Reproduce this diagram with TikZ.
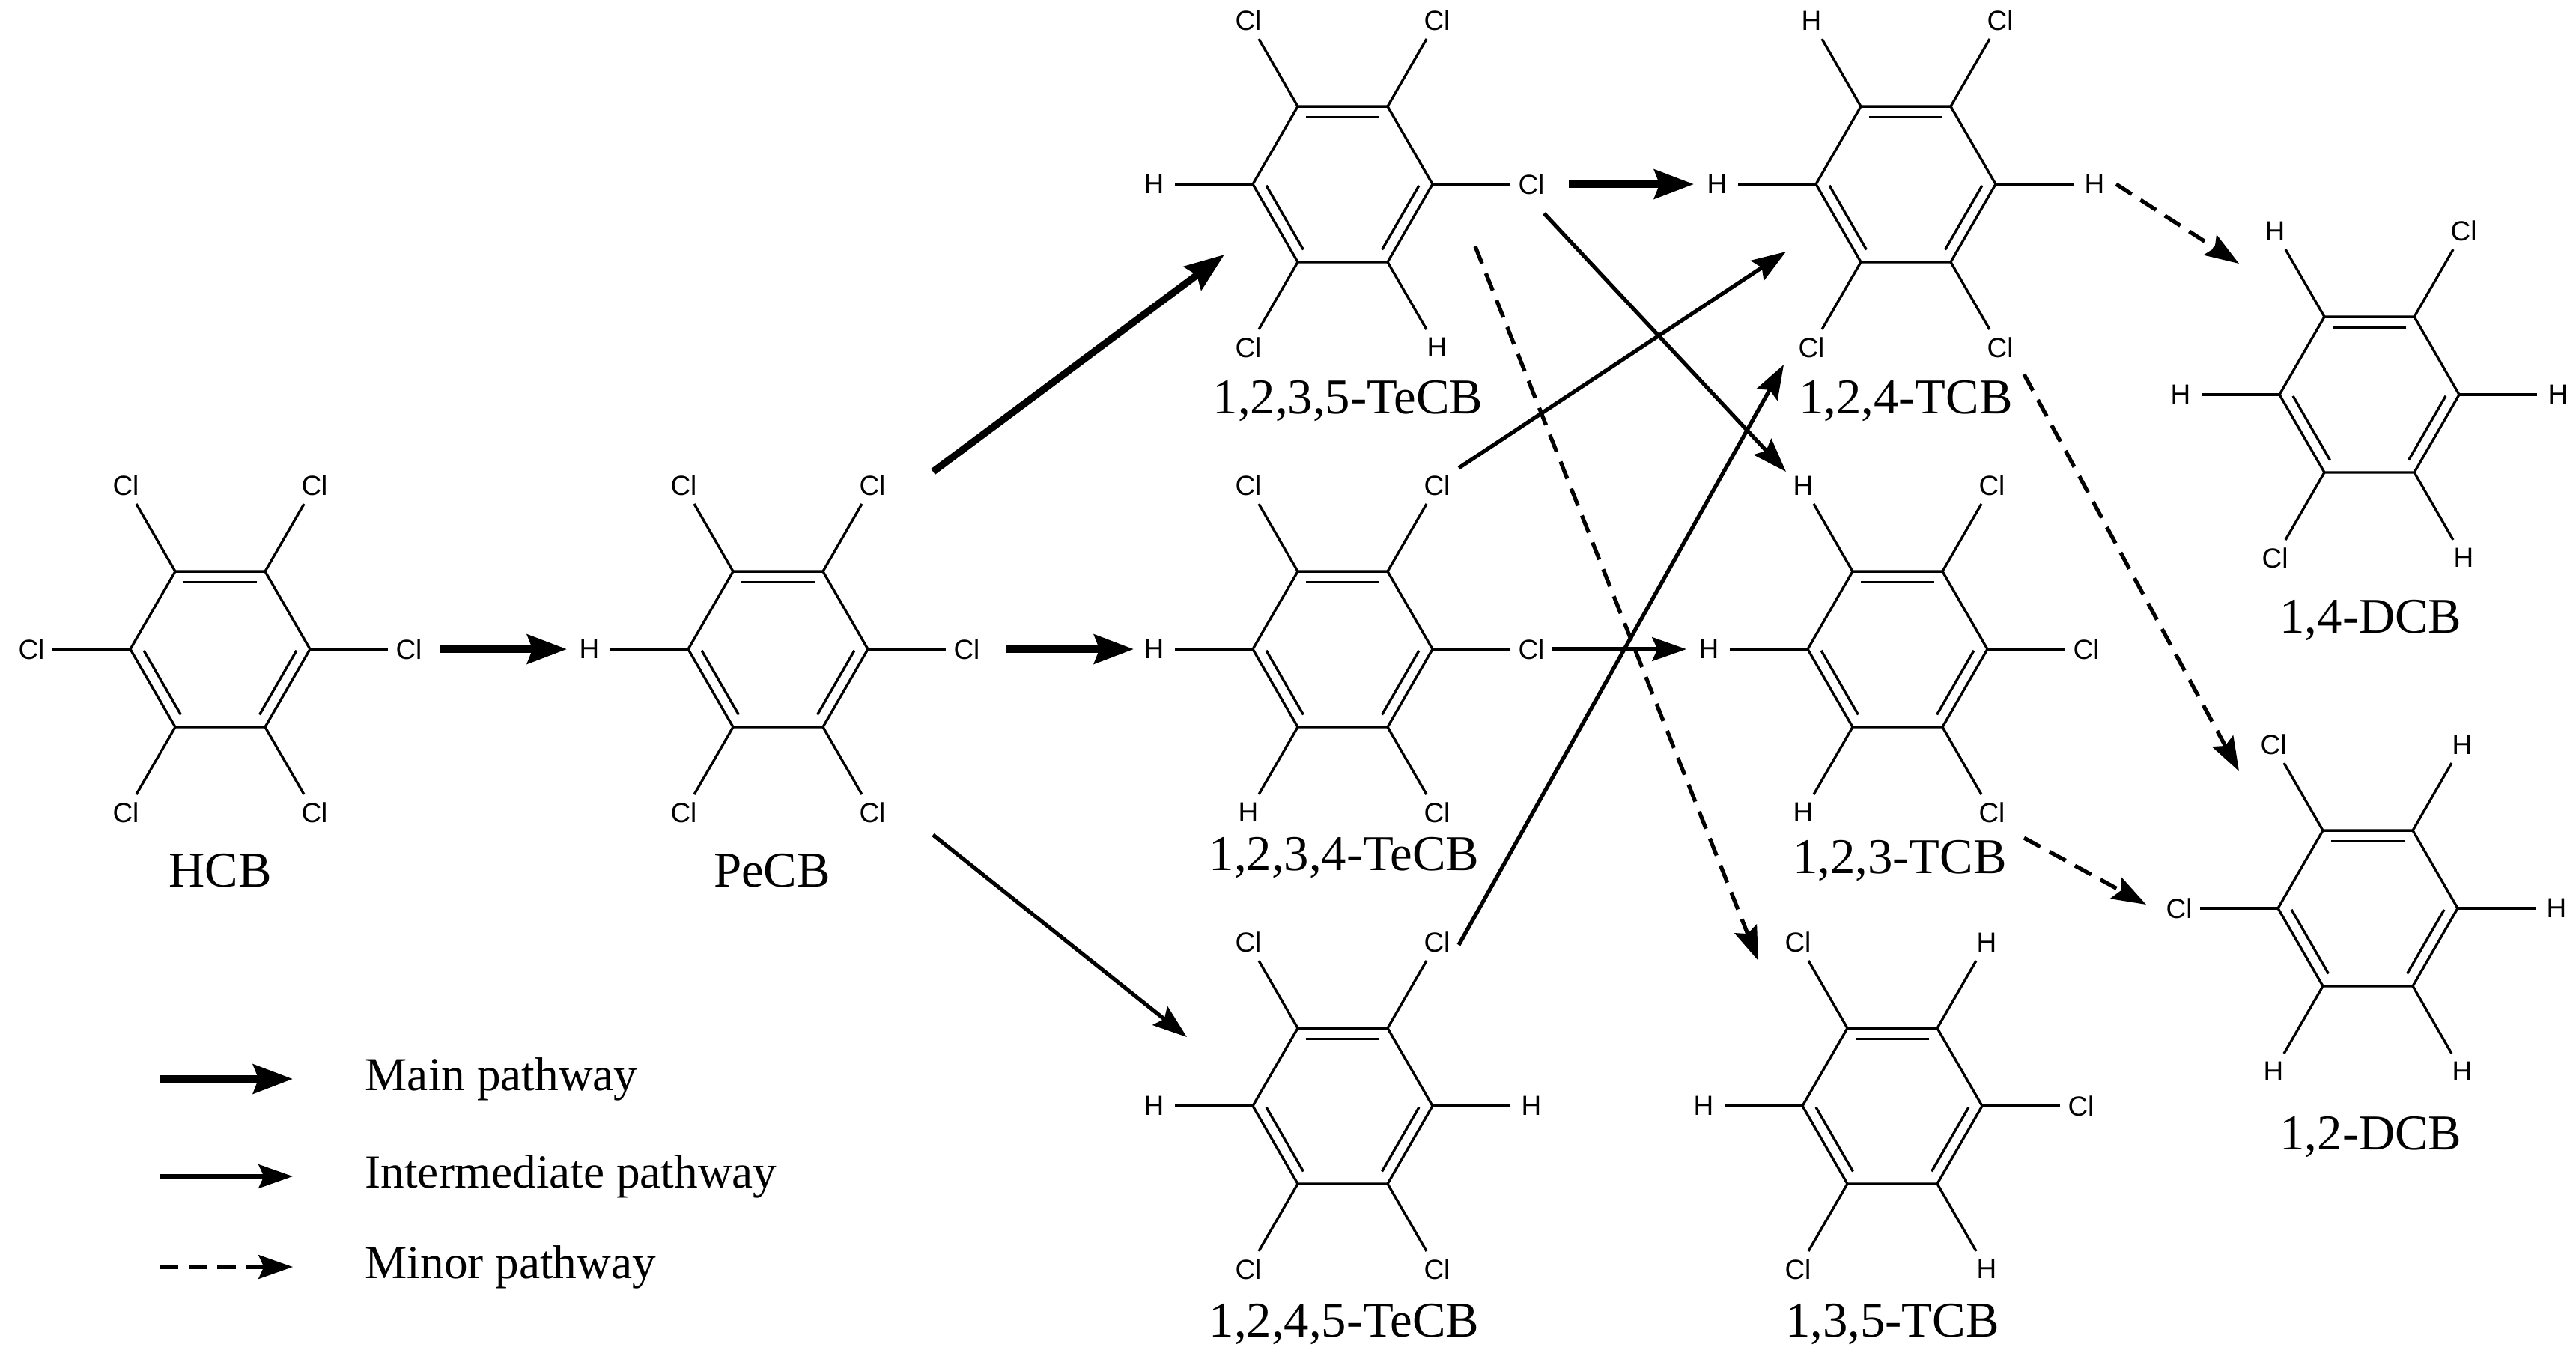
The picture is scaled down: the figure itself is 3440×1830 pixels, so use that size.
\documentclass[tikz,border=0pt]{standalone}
\usepackage{fontspec}
\setmainfont{Liberation Serif}
\newfontfamily\atomfont{Liberation Sans}
\usetikzlibrary{arrows.meta}
\tikzset{
  bond/.style={line width=0.95pt, line join=miter},
  atom/.style={font=\atomfont\fontsize{10.5}{12}\selectfont, inner sep=0pt},
  cname/.style={font=\fontsize{19}{22}\selectfont, inner sep=0pt},
  legtxt/.style={font=\fontsize{18}{21}\selectfont, inner sep=0pt, anchor=west},
  mainp/.style={line width=2.7pt, -{Stealth[length=15pt,width=11pt,inset=2pt]}},
  interp/.style={line width=1.5pt, -{Stealth[length=13pt,width=9pt,inset=2pt]}},
  minorp/.style={line width=1.5pt, dash pattern=on 7pt off 4pt, -{Stealth[length=13pt,width=9pt,inset=2pt]}},
}
% #1 name, #2 x, #3 y, #4..#9 labels at 0,60,120,180,240,300 degrees
\newcommand\benzring[9]{%
\begin{scope}[shift={(#2,#3)}, yscale=-1]
  \draw[bond] (0:120)--(60:120)--(120:120)--(180:120)--(240:120)--(300:120)--cycle;
  \foreach \m in {90,210,330}{\draw[bond] (\m-29:102)--(\m+29:102);}
  \foreach \a/\t [count=\i] in {0/#4,60/#5,120/#6,180/#7,240/#8,300/#9}{
    \draw[bond] (\a:120)--(\a:224);
    \node[atom] (#1-\i) at (\a:252) {\t};
  }
\end{scope}}
\begin{document}
\begin{tikzpicture}[x=0.1mm,y=-0.1mm]
\useasboundingbox (0,0) rectangle (3440,1830);
\benzring{hcb}{294}{867}{Cl}{Cl}{Cl}{Cl}{Cl}{Cl}
\benzring{pecb}{1039}{867}{Cl}{Cl}{Cl}{H}{Cl}{Cl}
\benzring{teA}{1793}{246}{Cl}{Cl}{Cl}{H}{Cl}{H}
\benzring{teB}{1793}{867}{Cl}{Cl}{Cl}{H}{H}{Cl}
\benzring{teC}{1793}{1477}{H}{Cl}{Cl}{H}{Cl}{Cl}
\benzring{tA}{2545}{246}{H}{Cl}{H}{H}{Cl}{Cl}
\benzring{tB}{2534}{867}{Cl}{Cl}{H}{H}{H}{Cl}
\benzring{tC}{2527}{1477}{Cl}{H}{Cl}{H}{Cl}{H}
\benzring{dA}{3164}{527}{H}{Cl}{H}{H}{Cl}{H}
\benzring{dB}{3162}{1213}{H}{H}{Cl}{Cl}{H}{H}

\node[cname] (n1) at (294,1163) {HCB};
\node[cname] (n2) at (1031,1163) {PeCB};
\node[cname] (n3) at (1800,536) {1,2,3,5-TeCB};
\node[cname] (n4) at (1795,1145) {1,2,3,4-TeCB};
\node[cname] (n5) at (1795,1768) {1,2,4,5-TeCB};
\node[cname] (n6) at (2545,536) {1,2,4-TCB};
\node[cname] (n7) at (2537,1150) {1,2,3-TCB};
\node[cname] (n8) at (2527,1768) {1,3,5-TCB};
\node[cname] (n9) at (3166,829) {1,4-DCB};
\node[cname] (n10) at (3166,1518) {1,2-DCB};

% arrow end points
\coordinate (a1s) at (588,867);  \coordinate (a1e) at (757,867);
\coordinate (a2s) at (1246,630); \coordinate (a2e) at (1635,340);
\coordinate (a3s) at (1343,867); \coordinate (a3e) at (1514,867);
\coordinate (a4s) at (1246,1115);\coordinate (a4e) at (1585,1385);
\coordinate (a5s) at (2095,246); \coordinate (a5e) at (2262,246);
\coordinate (a6s) at (2062,285); \coordinate (a6e) at (2385,630);
\coordinate (a7s) at (1970,329); \coordinate (a7e) at (2348,1283);
\coordinate (a8s) at (1948,625); \coordinate (a8e) at (2385,336);
\coordinate (a9s) at (2073,867); \coordinate (a9e) at (2252,867);
\coordinate (a10s) at (1948,1262);\coordinate (a10e) at (2382,487);
\coordinate (a11s) at (2826,246);\coordinate (a11e) at (2990,352);
\coordinate (a12s) at (2703,500);\coordinate (a12e) at (2990,1030);
\coordinate (a13s) at (2703,1119);\coordinate (a13e) at (2866,1208);

\draw[mainp] (a1s) -- (a1e);
\draw[mainp] (a2s) -- (a2e);
\draw[mainp] (a3s) -- (a3e);
\draw[interp] (a4s) -- (a4e);
\draw[mainp] (a5s) -- (a5e);
\draw[interp] (a6s) -- (a6e);
\draw[minorp] (a7s) -- (a7e);
\draw[interp] (a8s) -- (a8e);
\draw[interp] (a9s) -- (a9e);
\draw[interp] (a10s) -- (a10e);
\draw[minorp] (a11s) -- (a11e);
\draw[minorp] (a12s) -- (a12e);
\draw[minorp] (a13s) -- (a13e);

% legend
\coordinate (l1s) at (213,1441); \coordinate (l1e) at (391,1441);
\coordinate (l2s) at (213,1571); \coordinate (l2e) at (391,1571);
\coordinate (l3s) at (213,1692); \coordinate (l3e) at (391,1692);
\draw[mainp] (l1s) -- (l1e);
\draw[interp] (l2s) -- (l2e);
\draw[minorp] (l3s) -- (l3e);
\node[legtxt] (t1) at (487,1441) {Main pathway};
\node[legtxt] (t2) at (487,1571) {Intermediate pathway};
\node[legtxt] (t3) at (487,1692) {Minor pathway};
\end{tikzpicture}
\end{document}
